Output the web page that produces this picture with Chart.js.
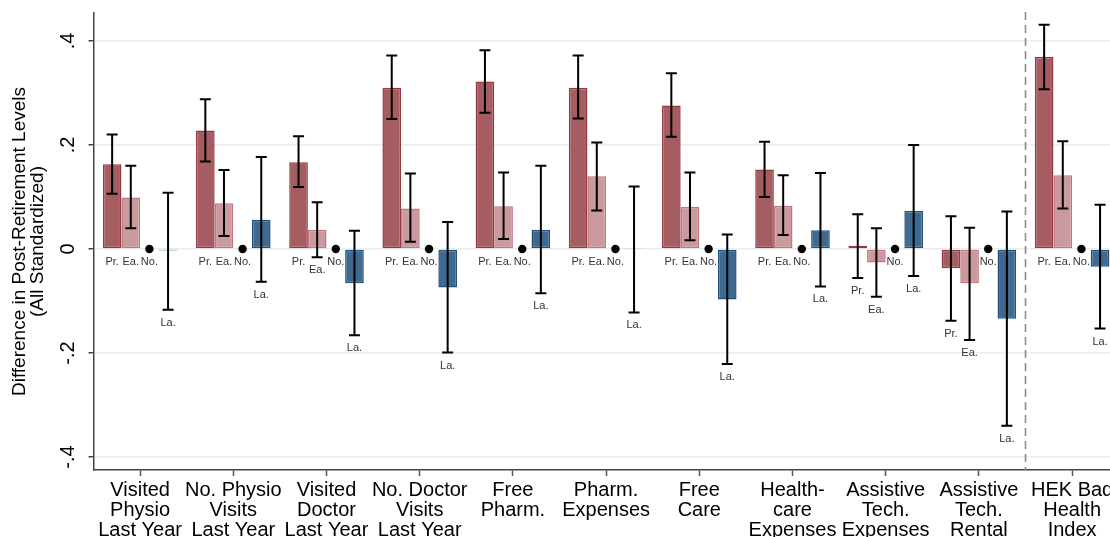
<!DOCTYPE html>
<html><head><meta charset="utf-8">
<script src="https://cdn.jsdelivr.net/npm/chart.js@4"></script>
<style>
html,body{margin:0;padding:0;overflow:hidden;background:#fff;width:1110px;height:537px}
#wrap{position:relative;width:1170px;height:537px}
</style></head>
<body><div id="wrap"><canvas id="c" width="1170" height="537"></canvas></div>
<script>
const categories = [["Visited","Physio","Last Year"],["No. Physio","Visits","Last Year"],["Visited","Doctor","Last Year"],["No. Doctor","Visits","Last Year"],["Free","Pharm."],["Pharm.","Expenses"],["Free","Care"],["Health-","care","Expenses"],["Assistive","Tech.","Expenses"],["Assistive","Tech.","Rental"],["HEK Bad","Health","Index"]];
const seriesNames = ["Pr.","Ea.","No.","La."];

const prVal = [0.163, 0.228, 0.167, 0.310, 0.322, 0.310, 0.276, 0.153, 0.006, -0.037, 0.369];
const prLo  = [0.106, 0.168, 0.119, 0.250, 0.262, 0.251, 0.216, 0.100, -0.056, -0.138, 0.307];
const prHi  = [0.220, 0.288, 0.217, 0.372, 0.382, 0.372, 0.338, 0.206, 0.067, 0.063, 0.431];

const eaVal = [0.099, 0.088, 0.037, 0.078, 0.082, 0.140, 0.081, 0.083, -0.026, -0.066, 0.142];
const eaLo  = [0.040, 0.025, -0.016, 0.014, 0.019, 0.074, 0.017, 0.027, -0.092, -0.175, 0.078];
const eaHi  = [0.160, 0.152, 0.090, 0.145, 0.147, 0.205, 0.147, 0.142, 0.040, 0.041, 0.207];

const noVal = [0, 0, 0, 0, 0, 0, 0, 0, 0, 0, 0];

const laVal = [-0.003, 0.056, -0.066, -0.074, 0.037, 0.002, -0.097, 0.036, 0.073, -0.134, -0.034];
const laLo  = [-0.117, -0.063, -0.166, -0.199, -0.085, -0.122, -0.221, -0.072, -0.052, -0.340, -0.153];
const laHi  = [0.108, 0.177, 0.035, 0.052, 0.160, 0.120, 0.028, 0.146, 0.200, 0.072, 0.085];

const yTickValues = [-0.4, -0.2, 0, 0.2, 0.4];
const yTickLabels = ["-.4", "-.2", "0", ".2", ".4"];
const yTitleLines = ["Difference in Post-Retirement Levels", "(All Standardized)"];
const dividerAfter = 9; // dashed line between group index 9 and 10

const FONT = '"Liberation Sans", Arial, Helvetica, sans-serif';
const lows = [prLo, eaLo, null, laLo];
const highs = [prHi, eaHi, null, laHi];

const overlay = {
  id: 'overlay',
  afterDraw(chart) {
    const ctx = chart.ctx, y = chart.scales.y, x = chart.scales.x, ca = chart.chartArea;
    ctx.save();
    ctx.fillStyle = '#000';
    ctx.font = '20px ' + FONT;
    ctx.textAlign = 'center';
    ctx.textBaseline = 'middle';
    yTickValues.forEach((v, i) => {
      const py = y.getPixelForValue(v);
      ctx.save();
      ctx.translate(68, py);
      ctx.rotate(-Math.PI / 2);
      ctx.fillText(yTickLabels[i], 0, 0);
      ctx.restore();
    });
    ctx.font = '19px ' + FONT;
    const cy = (ca.top + ca.bottom) / 2;
    [20, 38].forEach((px, i) => {
      ctx.save();
      ctx.translate(px, cy);
      ctx.rotate(-Math.PI / 2);
      ctx.fillText(yTitleLines[i], 0, 0);
      ctx.restore();
    });
    const dx = (x.getPixelForTick(dividerAfter) + x.getPixelForTick(dividerAfter + 1)) / 2;
    ctx.strokeStyle = '#8c8c8c';
    ctx.lineWidth = 1.6;
    ctx.setLineDash([8, 5]);
    ctx.beginPath();
    ctx.moveTo(dx, ca.top - 1);
    ctx.lineTo(dx, ca.bottom);
    ctx.stroke();
    ctx.setLineDash([]);
    const zeroPx = y.getPixelForValue(0);
    chart.data.datasets.forEach((ds, d) => {
      const meta = chart.getDatasetMeta(d);
      meta.data.forEach((el, i) => {
        const bx = el.x;
        let labelY = zeroPx + 13;
        if (lows[d]) {
          const lo = lows[d][i], hi = highs[d][i];
          const pl = y.getPixelForValue(lo), ph = y.getPixelForValue(hi);
          ctx.strokeStyle = '#000';
          ctx.lineWidth = 2;
          ctx.beginPath();
          ctx.moveTo(bx, ph); ctx.lineTo(bx, pl);
          ctx.moveTo(bx - 5.5, ph); ctx.lineTo(bx + 5.5, ph);
          ctx.moveTo(bx - 5.5, pl); ctx.lineTo(bx + 5.5, pl);
          ctx.stroke();
          labelY = y.getPixelForValue(Math.min(0, lo)) + 13;
        } else {
          ctx.fillStyle = '#000';
          ctx.beginPath();
          ctx.arc(bx, zeroPx, 4.2, 0, Math.PI * 2);
          ctx.fill();
        }
        ctx.fillStyle = '#333';
        ctx.font = '11px ' + FONT;
        ctx.textAlign = 'center';
        ctx.textBaseline = 'middle';
        ctx.fillText(seriesNames[d], bx, labelY);
      });
    });
    ctx.restore();
  }
};

new Chart(document.getElementById('c'), {
  type: 'bar',
  data: {
    labels: categories,
    datasets: [
      { label: seriesNames[0], data: prVal, backgroundColor: 'rgb(166,93,98)', borderColor: 'rgb(150,56,66)', borderWidth: 1.5, borderSkipped: false },
      { label: seriesNames[1], data: eaVal, backgroundColor: 'rgb(202,154,158)', borderColor: 'rgb(192,118,125)', borderWidth: 1.5, borderSkipped: false },
      { label: seriesNames[2], data: noVal, backgroundColor: 'rgba(0,0,0,0)', borderColor: 'rgba(0,0,0,0)', borderWidth: 0 },
      { label: seriesNames[3], data: laVal, backgroundColor: 'rgb(62,106,143)', borderColor: 'rgb(34,80,122)', borderWidth: 1.5, borderSkipped: false }
    ]
  },
  options: {
    responsive: false,
    animation: false,
    events: [],
    layout: { padding: { top: 13, left: 0, right: 51.3, bottom: 0 } },
    datasets: { bar: { categoryPercentage: 0.8, barPercentage: 1.0 } },
    plugins: { legend: { display: false }, tooltip: { enabled: false } },
    scales: {
      x: {
        offset: true,
        grid: { offset: false, drawOnChartArea: false, drawTicks: true, tickLength: 6, tickColor: '#555', tickWidth: 1.5 },
        border: { display: true, color: '#444', width: 1.5 },
        ticks: { autoSkip: false, maxRotation: 0, minRotation: 0, padding: 5, color: '#000', font: { family: FONT, size: 20, lineHeight: 0.99 } },
        afterFit(s) { s.height = 67; }
      },
      y: {
        min: -0.425, max: 0.4538,
        afterBuildTicks(s) { s.ticks = yTickValues.map(v => ({ value: v })); },
        grid: { color: '#e6eeee', lineWidth: 1.5, drawTicks: true, tickLength: 5, tickColor: '#444', tickWidth: 1.5 },
        border: { display: true, color: '#444', width: 1.5 },
        ticks: { display: false },
        afterFit(s) { s.width = 93.5; }
      }
    }
  },
  plugins: [overlay]
});
</script>
</body></html>
